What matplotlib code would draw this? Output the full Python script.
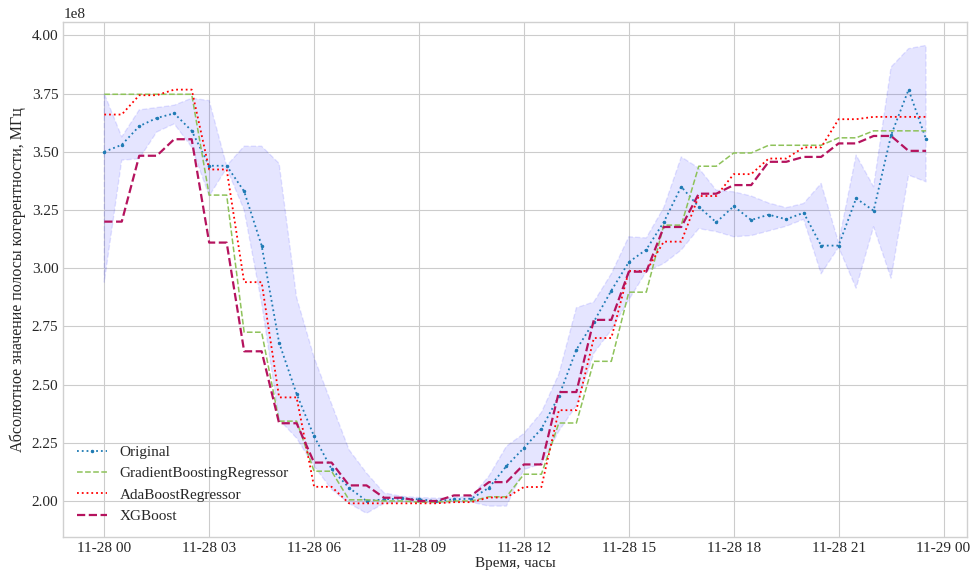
import numpy as np
import pandas as pd
import matplotlib
matplotlib.use('Agg')
import matplotlib.pyplot as plt
import matplotlib.dates as mdates

# Временная ось: шаг 30 минут
times = pd.date_range('2023-11-28 00:00', periods=48, freq='30min')

# Исходный ряд (x1e8)
original = [3.50, 3.53, 3.61, 3.645, 3.665, 3.59, 3.44, 3.44, 3.33, 3.097,
            2.68, 2.46, 2.278, 2.137, 2.057, 2.00, 2.007, 2.011, 2.007, 2.00,
            2.007, 2.01, 2.057, 2.15, 2.228, 2.31, 2.45, 2.65, 2.77, 2.904,
            3.026, 3.08, 3.198, 3.35, 3.264, 3.197, 3.266, 3.207, 3.23, 3.21,
            3.238, 3.097, 3.097, 3.30, 3.247, 3.571, 3.767, 3.554]

# Границы доверительной полосы
band_upper = [3.75, 3.564, 3.68, 3.69, 3.70, 3.73, 3.72, 3.44, 3.524, 3.524,
              3.45, 2.874, 2.617, 2.417, 2.22, 2.12, 2.035, 2.02, 2.015, 2.012,
              2.015, 2.02, 2.107, 2.235, 2.29, 2.38, 2.545, 2.83, 2.855, 2.976,
              3.135, 3.13, 3.26, 3.478, 3.43, 3.335, 3.328, 3.31, 3.28, 3.26,
              3.278, 3.364, 3.11, 3.486, 3.35, 3.864, 3.943, 3.957]
band_lower = [2.94, 3.464, 3.47, 3.585, 3.62, 3.52, 3.31, 3.43, 3.25, 2.85,
              2.35, 2.27, 2.15, 2.05, 1.99, 1.947, 1.99, 1.995, 1.995, 1.99,
              1.995, 1.995, 1.978, 1.978, 2.135, 2.16, 2.30, 2.41, 2.635, 2.735,
              2.864, 2.985, 3.02, 3.078, 3.17, 3.157, 3.135, 3.14, 3.16, 3.18,
              3.21, 2.976, 3.09, 2.914, 3.178, 2.957, 3.40, 3.371]

# Прогнозы моделей (почасовые значения, каждое держится 2 отсчёта)
gb_hourly = [3.747, 3.747, 3.747, 3.314, 2.725, 2.343, 2.128, 2.005, 2.0, 1.995,
             2.0, 2.018, 2.115, 2.335, 2.60, 2.897, 3.185, 3.438, 3.495, 3.528,
             3.528, 3.56, 3.59, 3.59]
ada_hourly = [3.66, 3.743, 3.767, 3.424, 2.94, 2.445, 2.061, 1.99, 1.99, 1.99,
              1.995, 2.015, 2.06, 2.39, 2.70, 2.988, 3.114, 3.31, 3.404, 3.471,
              3.519, 3.64, 3.65, 3.65]
xgb_hourly = [3.20, 3.483, 3.554, 3.11, 2.643, 2.334, 2.165, 2.067, 2.014, 2.0,
              2.024, 2.081, 2.157, 2.468, 2.778, 2.985, 3.177, 3.32, 3.357, 3.457,
              3.478, 3.536, 3.568, 3.504]

scale = 1e8
orig = np.array(original) * scale
up = np.array(band_upper) * scale
lo = np.array(band_lower) * scale
gb = np.repeat(gb_hourly, 2) * scale
ada = np.repeat(ada_hourly, 2) * scale
xgb = np.repeat(xgb_hourly, 2) * scale

plt.style.use('seaborn-v0_8-whitegrid')
plt.rcParams['font.family'] = ['Liberation Serif', 'DejaVu Serif']
plt.rcParams['font.size'] = 11

fig, ax = plt.subplots(figsize=(9.72, 5.79), dpi=100)
fig.subplots_adjust(left=0.065, right=0.995, top=0.962, bottom=0.073)

ax.fill_between(times, lo, up, color='blue', alpha=0.1, linestyle='--', linewidth=1)
ax.plot(times, orig, linestyle=':', marker='.', markersize=3, color='#1f7bb4',
        linewidth=1.3, label='Original')
ax.plot(times, gb, linestyle='--', color='#8ec25a', linewidth=1.1,
        label='GradientBoostingRegressor')
ax.plot(times, ada, linestyle=':', color='red', linewidth=1.3,
        label='AdaBoostRegressor')
ax.plot(times, xgb, linestyle='--', color='#b5135e', linewidth=1.6,
        label='XGBoost')

ax.xaxis.set_major_locator(mdates.HourLocator(byhour=range(0, 24, 3)))
ax.xaxis.set_major_formatter(mdates.DateFormatter('%m-%d %H'))

ax.set_xlabel('Время, часы', labelpad=2)
ax.set_ylabel('Абсолютное значение полосы когерентности, МГц', fontsize=11.5, labelpad=4)
ax.legend(loc='lower left', frameon=False)

for s in ax.spines.values():
    s.set_visible(True)
    s.set_color('#d0d0d0')

plt.savefig('out.png', dpi=100)
